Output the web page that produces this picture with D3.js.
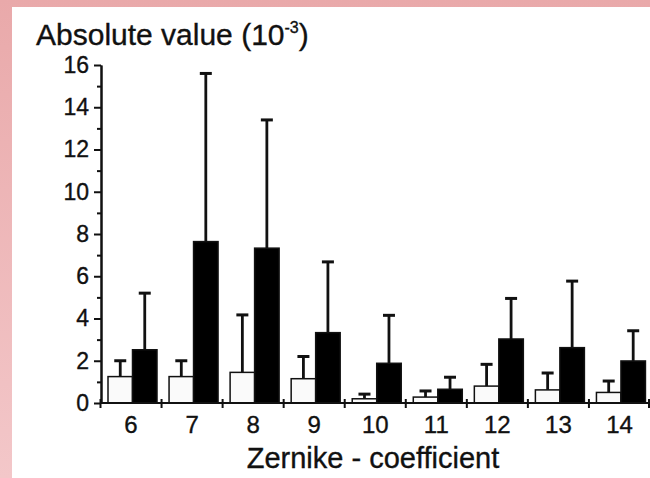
<!DOCTYPE html>
<html>
<head>
<meta charset="utf-8">
<script src="https://cdn.jsdelivr.net/npm/d3@7"></script>
<style>
  body { margin: 0; }
  svg { display: block; }
  svg text { font-family: "Liberation Sans", Arial, sans-serif; stroke: #111; stroke-width: 0.35px; }
</style>
</head>
<body>
<div id="chart"></div>
<script>
var categories  =   [ '6', '7', '8', '9', '10', '11', '12', '13', '14' ];
var white_mean  =   [ 1.25, 1.25, 1.45, 1.15, 0.2, 0.28, 0.8, 0.62, 0.5 ];
var white_sd    =   [ 0.75, 0.75, 2.72, 1.05, 0.22, 0.29, 1.03, 0.8, 0.54 ];
var black_mean  =   [ 2.52, 7.64, 7.33, 3.33, 1.88, 0.65, 3.03, 2.62, 1.99 ];
var black_sd    =   [ 2.68, 7.96, 6.07, 3.35, 2.27, 0.57, 1.92, 3.15, 1.43 ];
var y_major     =   [ 0, 2, 4, 6, 8, 10, 12, 14, 16 ];
var y_minor     =   [ 1, 3, 5, 7, 9, 11, 13, 15 ];

var chart_width     =   650;
var chart_height    =   478;

var svg = d3.select( '#chart' )
    .append( 'svg' )
    .attr( 'width', chart_width )
    .attr( 'height', chart_height );

// pink frame
var grad = svg.append( 'defs' ).append( 'linearGradient' )
    .attr( 'id', 'frame' )
    .attr( 'x1', 0 ).attr( 'y1', 0 ).attr( 'x2', 0 ).attr( 'y2', 1 );
grad.append( 'stop' ).attr( 'offset', '0%' ).attr( 'stop-color', '#e9a9aa' );
grad.append( 'stop' ).attr( 'offset', '100%' ).attr( 'stop-color', '#f3c7c9' );

svg.append( 'rect' )
    .attr( 'width', chart_width )
    .attr( 'height', chart_height )
    .attr( 'fill', 'url(#frame)' );
svg.append( 'rect' )
    .attr( 'x', 12 )
    .attr( 'y', 7 )
    .attr( 'width', chart_width - 12 )
    .attr( 'height', chart_height - 7 )
    .attr( 'fill', '#fff' );

// Scales
var x_scale = d3.scaleBand()
    .domain( categories )
    .range([ 100.5, 650 ])
    .padding( 0 );

var sub_scale = d3.scaleBand()
    .domain([ 'white', 'black' ])
    .range([ 7.5, 56.5 ]);

var y_scale = d3.scaleLinear()
    .domain([ 0, 16 ])
    .range([ 403, 65 ]);

var data = categories.map(function( c, i ){
    return {
        cat: c,
        bars: [
            { key: 'white', mean: white_mean[i], sd: white_sd[i] },
            { key: 'black', mean: black_mean[i], sd: black_sd[i] }
        ]
    };
});

// Bars + error bars
var groups = svg.append( 'g' )
    .selectAll( 'g' )
    .data( data )
    .enter()
    .append( 'g' )
    .attr( 'transform', function( d ){
        return 'translate(' + x_scale( d.cat ) + ',0)';
    });

groups.selectAll( 'line.err' )
    .data(function( d ){ return d.bars; })
    .enter()
    .append( 'line' )
    .attr( 'class', 'err' )
    .attr( 'x1', function( d ){ return sub_scale( d.key ) + sub_scale.bandwidth() / 2; })
    .attr( 'x2', function( d ){ return sub_scale( d.key ) + sub_scale.bandwidth() / 2; })
    .attr( 'y1', function( d ){ return y_scale( d.mean ); })
    .attr( 'y2', function( d ){ return y_scale( d.mean + d.sd ); })
    .attr( 'stroke', '#111' )
    .attr( 'stroke-width', 2.8 );

groups.selectAll( 'line.cap' )
    .data(function( d ){ return d.bars; })
    .enter()
    .append( 'line' )
    .attr( 'class', 'cap' )
    .attr( 'x1', function( d ){ return sub_scale( d.key ) + sub_scale.bandwidth() / 2 - 6; })
    .attr( 'x2', function( d ){ return sub_scale( d.key ) + sub_scale.bandwidth() / 2 + 6; })
    .attr( 'y1', function( d ){ return y_scale( d.mean + d.sd ); })
    .attr( 'y2', function( d ){ return y_scale( d.mean + d.sd ); })
    .attr( 'stroke', '#111' )
    .attr( 'stroke-width', 3 );

groups.selectAll( 'rect' )
    .data(function( d ){ return d.bars; })
    .enter()
    .append( 'rect' )
    .attr( 'x', function( d ){ return sub_scale( d.key ); })
    .attr( 'y', function( d ){ return y_scale( d.mean ); })
    .attr( 'width', sub_scale.bandwidth() )
    .attr( 'height', function( d ){ return y_scale( 0 ) - y_scale( d.mean ); })
    .attr( 'fill', function( d ){ return d.key === 'white' ? '#fafafa' : '#000'; })
    .attr( 'stroke', '#111' )
    .attr( 'stroke-width', 1.5 );

// Y axis
var y_axis = d3.axisLeft( y_scale )
    .tickValues( y_major )
    .tickSize( 7 )
    .tickSizeOuter( 0 )
    .tickPadding( 5 );

var y_g = svg.append( 'g' )
    .attr( 'class', 'y-axis' )
    .attr( 'transform', 'translate(101,0)' )
    .call( y_axis );

svg.append( 'g' )
    .attr( 'transform', 'translate(101,0)' )
    .call( d3.axisLeft( y_scale ).tickValues( y_minor ).tickSize( 4 ).tickSizeOuter( 0 ).tickFormat( '' ) );

// X axis: labels at centres, ticks at category edges
var x_axis = d3.axisBottom( x_scale )
    .tickSize( 0 )
    .tickSizeOuter( 0 )
    .tickPadding( 13 );

var x_g = svg.append( 'g' )
    .attr( 'class', 'x-axis' )
    .attr( 'transform', 'translate(0,403)' )
    .call( x_axis );

x_g.select( '.domain' ).attr( 'd', 'M' + x_scale.range()[0] + ',0H' + x_scale.range()[1] );

var edges = categories.map(function( c ){ return x_scale( c ); }).concat([ x_scale.range()[1] - 1 ]);
x_g.selectAll( 'line.edge' )
    .data( edges )
    .enter()
    .append( 'line' )
    .attr( 'class', 'edge' )
    .attr( 'x1', function( d ){ return d; })
    .attr( 'x2', function( d ){ return d; })
    .attr( 'y1', -4 )
    .attr( 'y2', 5 )
    .attr( 'stroke', '#111' )
    .attr( 'stroke-width', 2 );

svg.selectAll( '.domain' ).attr( 'stroke', '#111' ).attr( 'stroke-width', 2 );
svg.selectAll( '.tick line' ).attr( 'stroke', '#111' ).attr( 'stroke-width', 2 );
svg.selectAll( '.y-axis, .x-axis' )
    .attr( 'font-family', null )
    .attr( 'font-size', null );
svg.selectAll( '.tick text' )
    .attr( 'fill', '#111' )
    .style( 'font-size', '23px' );
x_g.selectAll( '.tick text' ).style( 'font-size', '24px' );

// Titles
var y_title = svg.append( 'text' )
    .attr( 'x', 36 )
    .attr( 'y', 45 )
    .attr( 'fill', '#111' )
    .style( 'font-size', '30px' );
y_title.append( 'tspan' ).text( 'Absolute value (10' );
y_title.append( 'tspan' )
    .attr( 'dy', -12 )
    .style( 'font-size', '16px' )
    .text( '-3' );
y_title.append( 'tspan' )
    .attr( 'dy', 12 )
    .text( ')' );

svg.append( 'text' )
    .attr( 'x', 373 )
    .attr( 'y', 468 )
    .attr( 'text-anchor', 'middle' )
    .attr( 'fill', '#111' )
    .style( 'font-size', '29px' )
    .text( 'Zernike - coefficient' );
</script>
</body>
</html>
